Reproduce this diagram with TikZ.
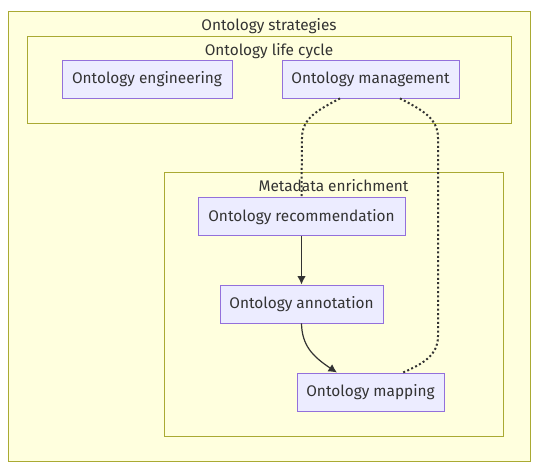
\documentclass[tikz,border=0pt]{standalone}
\usepackage{fontspec}
\setmainfont{Fira Sans}
\usetikzlibrary{positioning, arrows.meta}
\definecolor{clusterfill}{HTML}{FFFFDE}
\definecolor{clusterline}{HTML}{AAAA33}
\definecolor{nodefill}{HTML}{ECECFF}
\definecolor{nodeline}{HTML}{9370DB}
\definecolor{inkgrey}{HTML}{333333}
\newcommand{\flowarrow}{-{Latex[length=3mm,width=3mm]}}
\newcommand{\boxheight}{38pt}
\tikzset{
    cluster/.style={draw=clusterline, fill=clusterfill, line width=0.9pt, inner sep=0pt},
    stepbox/.style={draw=nodeline, fill=nodefill, line width=0.9pt, minimum height=\boxheight, inner sep=0pt, text=inkgrey, text height=1em, text depth=0.05em},
    dotline/.style={draw=inkgrey, line width=2pt, dash pattern=on 2pt off 2.4pt},
    solidline/.style={draw=inkgrey, line width=1.2pt}
}

\begin{document}
\begin{tikzpicture}[x=1pt, y=-1pt, font=\fontsize{15.4}{18}\selectfont, text=inkgrey]
        \useasboundingbox (0,0) rectangle (547,472);
        % clusters
        \node[cluster, minimum width=522pt, minimum height=450pt] (strategies) at (269,236) {};
        \node[anchor=north] (strategieslabel) at (269,14.5) {Ontology strategies};
        \node[cluster, minimum width=484pt, minimum height=87pt] (lifecycle) at (269,79.5) {};
        \node[anchor=north] (lifecyclelabel) at (269,39.5) {Ontology life cycle};
        \node[cluster, minimum width=339pt, minimum height=264pt] (enrichment) at (333.5,304) {};
        \node[anchor=north] (enrichmentlabel) at (333.5,176) {Metadata enrichment};
        % steps
        \node[stepbox, minimum width=170pt] (engineering) at (147,79) {Ontology engineering};
        \node[stepbox, minimum width=177pt] (management) at (370.5,79) {Ontology management};
        \node[stepbox, minimum width=207pt] (recommendation) at (301.5,216.5) {Ontology recommendation};
        \node[stepbox, minimum width=163pt] (annotation) at (301.5,304) {Ontology annotation};
        \node[stepbox, minimum width=147pt] (mapping) at (370.5,392) {Ontology mapping};
        % links
        \draw[dotline] ([xshift=-30.5pt]management.south) .. controls (318,110) and (302,118) .. (302,138)
            -- (recommendation.north);
        \draw[dotline] ([xshift=29.5pt]management.south) .. controls (422,110) and (438,118) .. (438,138)
            -- (438,336) .. controls (438,356) and (422,364) .. ([xshift=32.5pt]mapping.north);
        \draw[solidline, \flowarrow] (recommendation.south) -- (annotation.north);
        \draw[solidline, \flowarrow] (annotation.south) .. controls (302,345) and (312,356) .. ([xshift=-33.5pt]mapping.north);
    \end{tikzpicture}
\end{document}
